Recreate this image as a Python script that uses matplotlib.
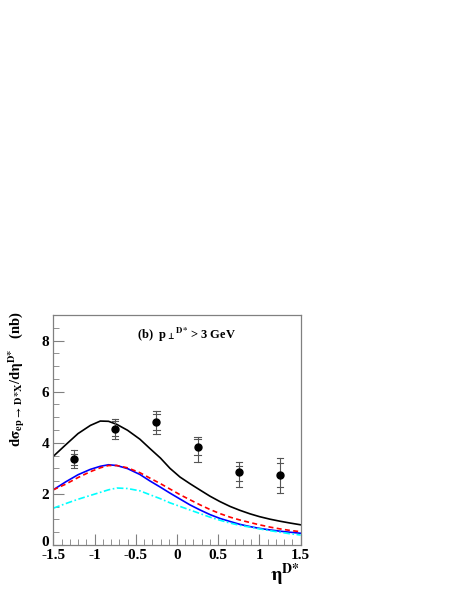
import matplotlib
matplotlib.use('Agg')
import matplotlib.pyplot as plt
from matplotlib.ticker import MultipleLocator
from matplotlib.transforms import ScaledTranslation

plt.rcParams['font.family'] = 'Liberation Serif'
plt.rcParams['font.weight'] = 'bold'
plt.rcParams['mathtext.fontset'] = 'stix'
plt.rcParams['mathtext.default'] = 'bf'

# data points (eta bins)
eta_pts = [-1.25, -0.75, -0.25, 0.25, 0.75, 1.25]
xsec = [3.37, 4.55, 4.83, 3.84, 2.86, 2.73]
stat_lo = [3.12, 4.25, 4.50, 3.54, 2.49, 2.27]
stat_hi = [3.58, 4.84, 5.11, 4.13, 3.11, 3.21]
tot_lo = [3.02, 4.13, 4.35, 3.25, 2.27, 2.03]
tot_hi = [3.72, 4.94, 5.26, 4.24, 3.24, 3.41]

# theory curves
eta_c = [-1.5, -1.35, -1.2, -1.05, -0.93, -0.83, -0.73, -0.6, -0.45, -0.33, -0.2, -0.085,
         0.036, 0.157, 0.28, 0.40, 0.52, 0.643, 0.76, 0.885, 1.0, 1.128, 1.25, 1.37, 1.5]
black = [3.47, 3.92, 4.36, 4.68, 4.85, 4.84, 4.72, 4.49, 4.14, 3.78, 3.40, 3.00,
         2.66, 2.40, 2.15, 1.91, 1.70, 1.51, 1.36, 1.22, 1.11, 1.01, 0.93, 0.86, 0.79]
blue = [2.16, 2.47, 2.75, 2.96, 3.08, 3.14, 3.11, 2.99, 2.76, 2.51, 2.26, 2.03,
        1.80, 1.57, 1.37, 1.19, 1.04, 0.92, 0.81, 0.72, 0.65, 0.59, 0.54, 0.50, 0.46]
red = [2.16, 2.38, 2.64, 2.87, 3.02, 3.11, 3.11, 3.02, 2.83, 2.62, 2.40, 2.19,
       1.97, 1.77, 1.57, 1.39, 1.23, 1.09, 0.98, 0.88, 0.79, 0.70, 0.63, 0.57, 0.52]
cyan = [1.44, 1.62, 1.79, 1.94, 2.06, 2.16, 2.23, 2.21, 2.12, 1.97, 1.81, 1.65,
        1.51, 1.37, 1.23, 1.09, 0.97, 0.86, 0.77, 0.70, 0.63, 0.56, 0.50, 0.44, 0.39]

fig = plt.figure(figsize=(4.63, 5.99), dpi=100)
ax = fig.add_axes([53.3 / 463, 1 - 545 / 599, (300.7 - 53.3) / 463, (545 - 315) / 599])

ax.plot(eta_c, black, color='black', lw=1.2)
ax.plot(eta_c, blue, color='blue', lw=1.2)
ax.plot(eta_c, red, color='red', lw=1.2, ls=(0, (3, 2)))
ax.plot(eta_c, cyan, color='cyan', lw=1.2, ls=(0, (4, 1.5, 1, 1.5)))

for x, lo, hi in zip(eta_pts, tot_lo, tot_hi):
    ax.plot([x, x], [lo, hi], color='#555555', lw=0.8)
    ax.plot([x - 0.04, x + 0.04], [lo, lo], color='#555555', lw=0.8)
    ax.plot([x - 0.04, x + 0.04], [hi, hi], color='#555555', lw=0.8)
for x, lo, hi in zip(eta_pts, stat_lo, stat_hi):
    ax.plot([x - 0.04, x + 0.04], [lo, lo], color='#555555', lw=0.8)
    ax.plot([x - 0.04, x + 0.04], [hi, hi], color='#555555', lw=0.8)
ax.plot(eta_pts, xsec, 'o', color='black', ms=5)

ax.set_xlim(-1.5, 1.5)
ax.set_ylim(0, 9)
ax.xaxis.set_minor_locator(MultipleLocator(0.1))
ax.yaxis.set_minor_locator(MultipleLocator(0.5))
ax.set_xticks([-1.5, -1, -0.5, 0, 0.5, 1, 1.5])
ax.set_xticklabels(['-1.5', '-1', '-0.5', '0', '0.5', '1', '1.5'])
ax.set_yticks([0, 2, 4, 6, 8])
ax.set_yticklabels(['0', '2', '4', '6', '8'])
ax.tick_params(which='both', direction='in', color='#808080', top=False, right=False,
               labelsize=11, pad=3)
ax.tick_params(which='major', length=8)
ax.tick_params(which='minor', length=4)
for s in ax.spines.values():
    s.set_color('#808080')
    s.set_linewidth(0.9)

# nudge the "0" on y up a little so it clears "-1.5"
lab0 = ax.get_yticklabels()[0]
lab0.set_transform(lab0.get_transform() + ScaledTranslation(0, 3 / 72, fig.dpi_scale_trans))

ax.text(0.34, 0.915, r'(b)  p$_{\bot}{}^{\mathrm{D{*}}}$ > 3 GeV', transform=ax.transAxes,
        fontsize=9, fontweight='bold', va='center')

fig.text(17 / 463, 1 - 379 / 599,
         r'd$\sigma_{\mathrm{ep}\,\rightarrow\,\mathrm{D{*}X}}$/d$\eta^{\mathrm{D{*}}}$   (nb)',
         rotation=90, fontsize=10.5, fontweight='bold', ha='center', va='center')
fig.text(285 / 463, 1 - 575 / 599, r'$\eta^{\mathrm{D{*}}}$', fontsize=14,
         fontweight='bold', ha='center', va='center')

fig.savefig('out.png', dpi=100)
